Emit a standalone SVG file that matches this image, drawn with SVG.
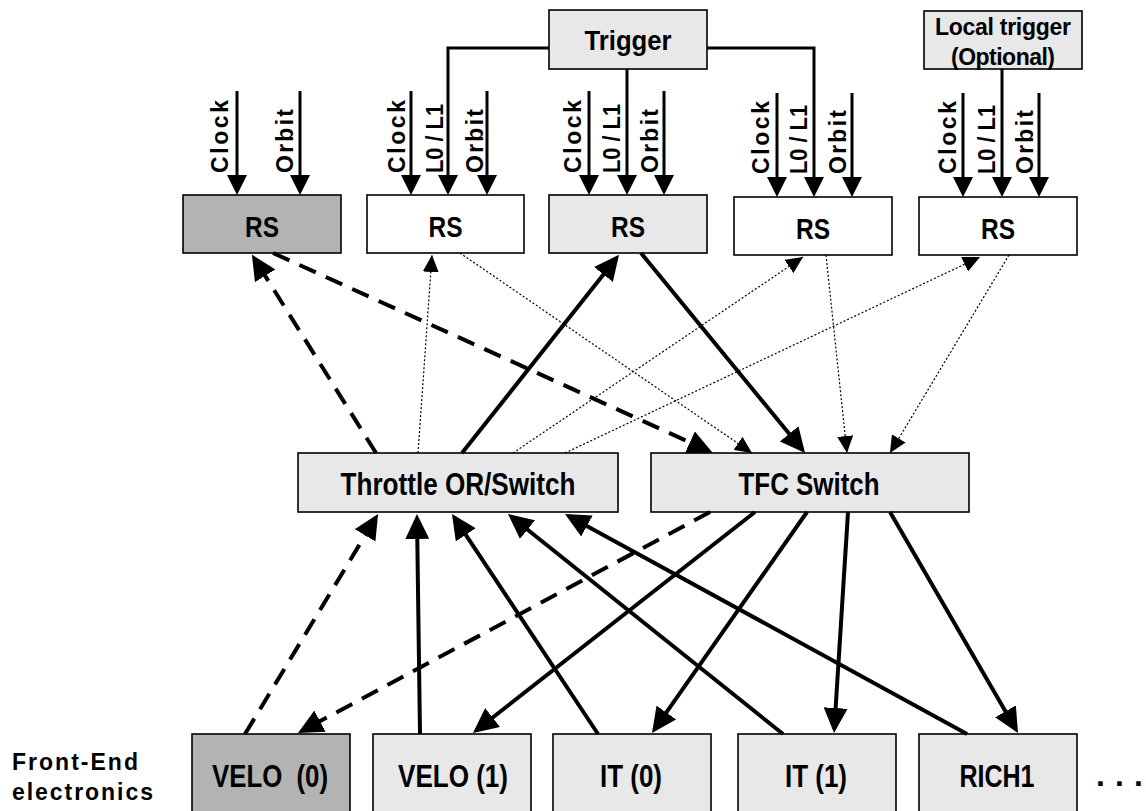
<svg xmlns="http://www.w3.org/2000/svg" width="1146" height="811" viewBox="0 0 1146 811">
<style>
.box{stroke:#000;stroke-width:1.6}
.dark{fill:#b3b3b3}.light{fill:#e8e8e8}.white{fill:#fff}
.t{font-family:"Liberation Sans",Arial,sans-serif;font-weight:bold;fill:#000}
.rs{font-size:30px;text-anchor:middle}
.sw{font-size:32px;text-anchor:middle}
.fe{font-size:32px;text-anchor:middle}
.lab{font-size:23px}
.thick{stroke:#000;stroke-width:4;fill:none}
.dash{stroke-dasharray:18 11}
.dot{stroke:#000;stroke-width:1.2;stroke-dasharray:2 2;fill:none}
.feed{stroke:#000;stroke-width:3;fill:none}
</style>
<defs>
<marker id="ah" markerUnits="userSpaceOnUse" viewBox="0 0 25 24" refX="21" refY="12" markerWidth="25" markerHeight="24" orient="auto"><path d="M0,0L25,12L0,24z" fill="#000"/></marker>
<marker id="am" markerUnits="userSpaceOnUse" viewBox="0 0 20 20" refX="16" refY="10" markerWidth="20" markerHeight="20" orient="auto"><path d="M0,0L20,10L0,20z" fill="#000"/></marker>
<marker id="as" markerUnits="userSpaceOnUse" viewBox="0 0 17 16" refX="17" refY="8" markerWidth="17" markerHeight="16" orient="auto"><path d="M0,0L17,8L0,16z" fill="#000"/></marker>
</defs>

<g id="trigger"><rect class="box light" x="549" y="10" width="158" height="59"/><text class="t" x="628" y="50" font-size="28" text-anchor="middle" textLength="87" lengthAdjust="spacingAndGlyphs">Trigger</text></g>
<g id="local-trigger"><rect class="box light" x="924" y="11" width="158" height="58"/><text class="t" x="1003" y="35" font-size="23" text-anchor="middle" textLength="136">Local trigger</text><text class="t" x="1003" y="65" font-size="23" text-anchor="middle" textLength="104">(Optional)</text></g>

<g id="rs1"><rect class="box dark" x="183" y="195" width="158" height="58"/><text class="t rs" x="262" y="237" textLength="34" lengthAdjust="spacingAndGlyphs">RS</text></g>
<g id="rs2"><rect class="box white" x="367" y="195" width="157" height="58"/><text class="t rs" x="445.5" y="237" textLength="34" lengthAdjust="spacingAndGlyphs">RS</text></g>
<g id="rs3"><rect class="box light" x="549" y="195" width="158" height="58"/><text class="t rs" x="628" y="237" textLength="34" lengthAdjust="spacingAndGlyphs">RS</text></g>
<g id="rs4"><rect class="box white" x="734" y="197" width="158" height="58"/><text class="t rs" x="813" y="239" textLength="34" lengthAdjust="spacingAndGlyphs">RS</text></g>
<g id="rs5"><rect class="box white" x="919" y="197" width="158" height="58"/><text class="t rs" x="998" y="239" textLength="34" lengthAdjust="spacingAndGlyphs">RS</text></g>

<g id="throttle"><rect class="box light" x="298" y="453" width="320" height="59"/><text class="t sw" x="458" y="495" textLength="235" lengthAdjust="spacingAndGlyphs">Throttle OR/Switch</text></g>
<g id="tfc"><rect class="box light" x="651" y="453" width="318" height="59"/><text class="t sw" x="809" y="495" textLength="141" lengthAdjust="spacingAndGlyphs">TFC Switch</text></g>

<g id="velo0"><rect class="box dark" x="192" y="734" width="158" height="90"/><text class="t fe" x="270" y="787" textLength="116" lengthAdjust="spacingAndGlyphs" xml:space="preserve">VELO  (0)</text></g>
<g id="velo1"><rect class="box light" x="373" y="734" width="158" height="90"/><text class="t fe" x="453" y="787" textLength="110" lengthAdjust="spacingAndGlyphs">VELO (1)</text></g>
<g id="it0"><rect class="box light" x="553" y="734" width="158" height="90"/><text class="t fe" x="631" y="787" textLength="62" lengthAdjust="spacingAndGlyphs">IT (0)</text></g>
<g id="it1"><rect class="box light" x="738" y="734" width="158" height="90"/><text class="t fe" x="816" y="787" textLength="62" lengthAdjust="spacingAndGlyphs">IT (1)</text></g>
<g id="rich1"><rect class="box light" x="919" y="734" width="158" height="90"/><text class="t fe" x="997" y="787" textLength="75" lengthAdjust="spacingAndGlyphs">RICH1</text></g>
<g id="more"><text class="t" x="1096" y="786" font-size="32" textLength="47">. . .</text></g>
<g id="fe-label"><text class="t" x="12" y="770" font-size="23" textLength="126">Front-End</text><text class="t" x="12" y="800" font-size="23" textLength="141">electronics</text></g>

<g id="inputs">
<path class="feed" d="M237,91V191" marker-end="url(#am)"/>
<path class="feed" d="M300,91V191" marker-end="url(#am)"/>
<path class="feed" d="M411,91V191" marker-end="url(#am)"/>
<path class="feed" d="M487,91V191" marker-end="url(#am)"/>
<path class="feed" d="M589,91V191" marker-end="url(#am)"/>
<path class="feed" d="M664,91V191" marker-end="url(#am)"/>
<path class="feed" d="M777,93V193" marker-end="url(#am)"/>
<path class="feed" d="M852,93V193" marker-end="url(#am)"/>
<path class="feed" d="M963,93V193" marker-end="url(#am)"/>
<path class="feed" d="M1039,93V193" marker-end="url(#am)"/>
<path class="feed" d="M549,48H448V191" marker-end="url(#am)"/>
<path class="feed" d="M627,69V191" marker-end="url(#am)"/>
<path class="feed" d="M707,48H814V193" marker-end="url(#am)"/>
<path class="feed" d="M1002,69V193" marker-end="url(#am)"/>
</g>
<g id="input-labels" class="t lab">
<text transform="translate(228,173) rotate(-90)" textLength="73">Clock</text>
<text transform="translate(293,173) rotate(-90)" textLength="64">Orbit</text>
<text transform="translate(405,173) rotate(-90)" textLength="73">Clock</text>
<text transform="translate(443,173) rotate(-90)" textLength="69" lengthAdjust="spacingAndGlyphs">L0 / L1</text>
<text transform="translate(483,173) rotate(-90)" textLength="64">Orbit</text>
<text transform="translate(581,173) rotate(-90)" textLength="73">Clock</text>
<text transform="translate(620,173) rotate(-90)" textLength="69" lengthAdjust="spacingAndGlyphs">L0 / L1</text>
<text transform="translate(658,173) rotate(-90)" textLength="64">Orbit</text>
<text transform="translate(769,174) rotate(-90)" textLength="73">Clock</text>
<text transform="translate(807,174) rotate(-90)" textLength="69" lengthAdjust="spacingAndGlyphs">L0 / L1</text>
<text transform="translate(846,174) rotate(-90)" textLength="64">Orbit</text>
<text transform="translate(956,174) rotate(-90)" textLength="73">Clock</text>
<text transform="translate(995,174) rotate(-90)" textLength="69" lengthAdjust="spacingAndGlyphs">L0 / L1</text>
<text transform="translate(1033,174) rotate(-90)" textLength="64">Orbit</text>
</g>

<g id="connectors">
<path class="thick dash" d="M376,453L254,258" marker-end="url(#ah)"/>
<path class="thick dash" d="M273,253L709,451" marker-end="url(#ah)"/>
<path class="dot" d="M418,453L432,255" marker-end="url(#as)"/>
<path class="dot" d="M460,253L752,453" marker-end="url(#as)"/>
<path class="thick" d="M462,453L616.5,258" marker-end="url(#ah)"/>
<path class="thick" d="M641,253L802.5,450" marker-end="url(#ah)"/>
<path class="dot" d="M513,453L803,257" marker-end="url(#as)"/>
<path class="dot" d="M565,453L980,257" marker-end="url(#as)"/>
<path class="dot" d="M826,255L847,453" marker-end="url(#as)"/>
<path class="dot" d="M1009,255L890,453" marker-end="url(#as)"/>

<path class="thick dash" d="M245,734L376,517.4" marker-end="url(#ah)"/>
<path class="thick" d="M420,734L417,518" marker-end="url(#ah)"/>
<path class="thick" d="M598,734L454.2,517.3" marker-end="url(#ah)"/>
<path class="thick" d="M783,734L511.1,516.5" marker-end="url(#ah)"/>
<path class="thick" d="M967,734L568.5,515.9" marker-end="url(#ah)"/>
<path class="thick dash" d="M710,512L301.5,731.1" marker-end="url(#ah)"/>
<path class="thick" d="M755,512L476.1,730.5" marker-end="url(#ah)"/>
<path class="thick" d="M807,512L654.3,729.7" marker-end="url(#ah)"/>
<path class="thick" d="M848,512L834.3,729" marker-end="url(#ah)"/>
<path class="thick" d="M890,512L1016,729.5" marker-end="url(#ah)"/>
</g>
</svg>
